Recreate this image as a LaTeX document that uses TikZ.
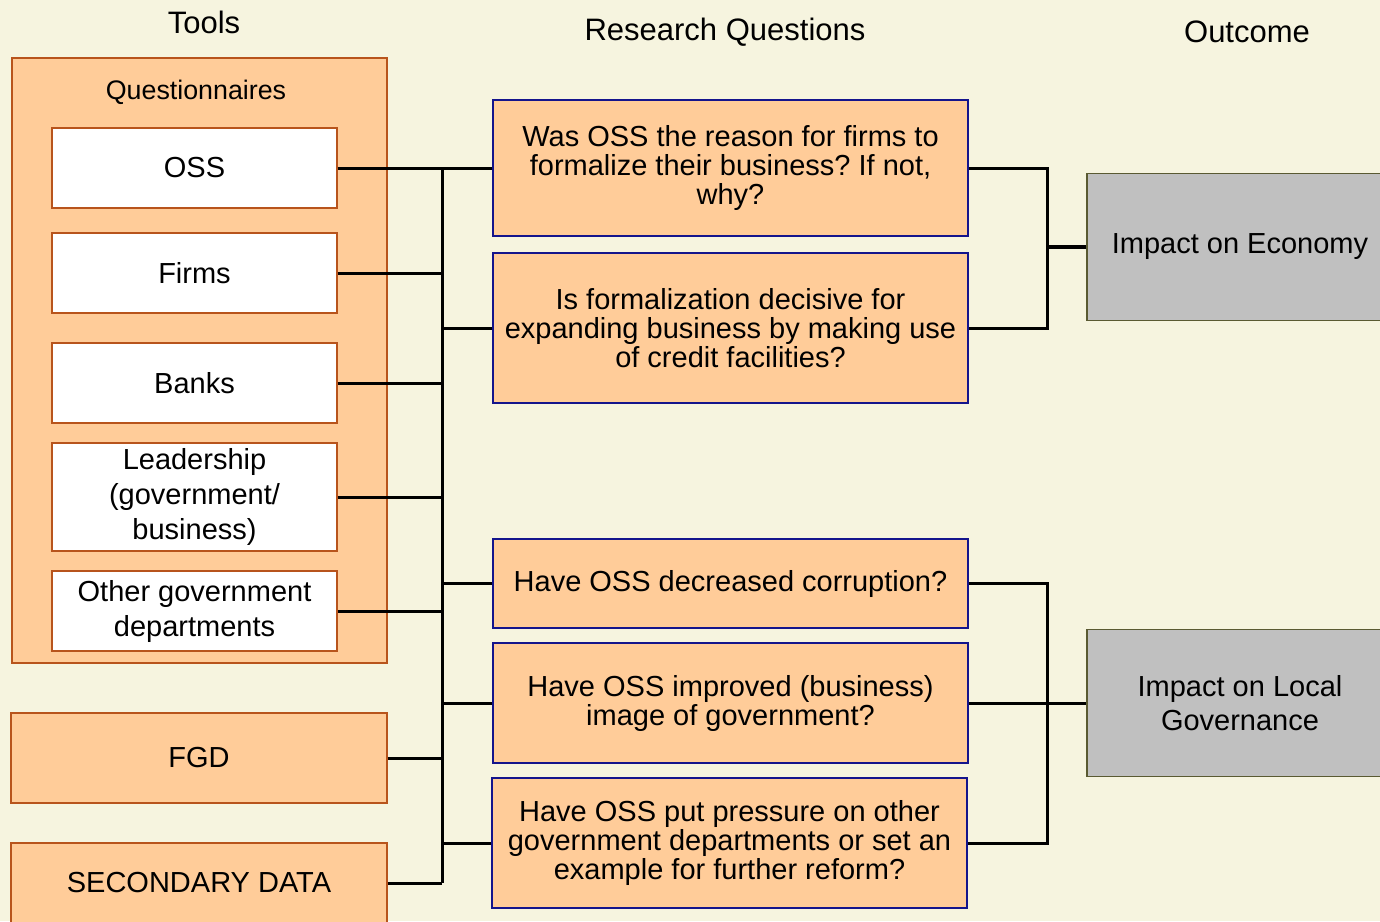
\documentclass[tikz,border=0pt]{standalone}
\usepackage{fontspec}
\setmainfont{Liberation Sans}
\usepackage{tikz}
\usetikzlibrary{calc}
\frenchspacing
\definecolor{paper}{RGB}{246,244,223}
\definecolor{peach}{RGB}{255,204,153}
\definecolor{rust}{RGB}{184,84,28}
\definecolor{navy}{RGB}{20,20,140}
\definecolor{olive}{RGB}{90,90,50}
\definecolor{slate}{RGB}{192,192,192}
\tikzset{
  tool/.style={
    draw=rust,
    fill=white,
    line width=0.6pt,
    minimum width=142.5pt,
    minimum height=40pt,
    inner sep=0pt,
    align=center,
    font=\fontsize{14.5}{17.5}\selectfont
  },
  source/.style={
    tool,
    fill=peach,
    minimum width=188pt,
    minimum height=45pt
  },
  question/.style={
    draw=navy,
    fill=peach,
    line width=0.6pt,
    minimum width=237.5pt,
    inner sep=0pt,
    align=center,
    font=\fontsize{14.5}{14.5}\selectfont
  },
  outcome/.style={
    draw=olive,
    fill=slate,
    line width=0.6pt,
    minimum width=153pt,
    minimum height=73.5pt,
    inner sep=0pt,
    align=center,
    font=\fontsize{14.5}{17}\selectfont
  },
  heading/.style={
    font=\fontsize{15.5}{18}\selectfont
  },
  link/.style={
    line width=1.5pt,
    color=black
  }
}

\begin{document}
\begin{tikzpicture}[x=0.5pt, y=-0.5pt]
    % 背景与画面大小
    \fill[paper] (0,0) rectangle (1380,921);
    \useasboundingbox (0,0) rectangle (1380,921);

    % 三列标题
    \node[heading] (ttools) at (204,22) {Tools};
    \node[heading] (tquest) at (725,32) {Research Questions};
    \node[heading] (tout) at (1247,32) {Outcome};

    % 问卷外框
    \filldraw[fill=peach, draw=rust, line width=0.6pt] (12,58) rectangle (387,663);
    \node[font=\fontsize{13.4}{16}\selectfont] (qlabel) at (196,92) {Questionnaires};

    % 工具
    \node[tool] (oss) at (194.5,168) {OSS};
    \node[tool] (firms) at (194.5,273) {Firms};
    \node[tool] (banks) at (194.5,383) {Banks};
    \node[tool, minimum height=54pt] (leader) at (194.5,497) {Leadership\\(government/\\business)};
    \node[tool] (othergov) at (194.5,611) {Other government\\departments};
    \node[source] (fgd) at (199,758) {FGD};
    \node[source, minimum height=40pt] (secdata) at (199,883) {SECONDARY DATA};

    % 研究问题
    \node[question, minimum height=68pt] (q1) at (730.5,168) {Was OSS the reason for firms to\\formalize their business? If not,\\why?};
    \node[question, minimum height=75pt] (q2) at (730.5,328) {Is formalization decisive for\\expanding business by making use\\of credit facilities?};
    \node[question, minimum height=44.5pt] (q3) at (730.5,583.5) {Have OSS decreased corruption?};
    \node[question, minimum height=60pt] (q4) at (730.5,703) {Have OSS improved (business)\\image of government?};
    \node[question, minimum height=65pt] (q5) at (729.5,843) {Have OSS put pressure on other\\government departments or set an\\example for further reform?};

    % 结果
    \node[outcome] (econ) at (1240,247) {Impact on Economy};
    \node[outcome] (gov) at (1240,703) {Impact on Local\\Governance};

    % 左侧总线
    \coordinate (bustop) at (442,168);
    \coordinate (busbot) at (442,883);
    \draw[link] (bustop) -- (busbot);
    \foreach \t in {oss,firms,banks,leader,othergov,fgd,secdata} {
      \draw[link] (\t.east) -- (\t.east -| bustop);
    }
    \foreach \q in {q1,q2,q3,q4,q5} {
      \draw[link] (\q.west) -- (\q.west -| bustop);
    }

    % 右侧汇合
    \coordinate (ecbar) at (1047,168);
    \draw[link] (q1.east) -- (q1.east -| ecbar) -- (q2.east -| ecbar) -- (q2.east);
    \draw[link, line width=2.2pt] (econ.west) -- (econ.west -| ecbar);
    \coordinate (gvbar) at (1047,583);
    \draw[link] (q3.east) -- (q3.east -| gvbar) -- (q5.east -| gvbar) -- (q5.east);
    \draw[link] (q4.east) -- (gov.west);

  \end{tikzpicture}
\end{document}
